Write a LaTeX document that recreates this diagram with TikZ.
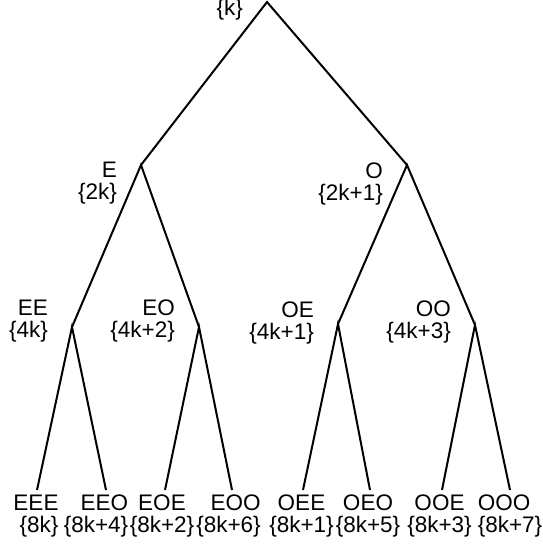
\documentclass[tikz,border=0pt]{standalone}
\usepackage{fontspec}
\setmainfont{Liberation Sans}
\usetikzlibrary{calc}

\begin{document}
\begin{tikzpicture}[x=1pt,y=-1pt,
                    edge/.style={line width=2pt,line join=miter},
                    tag/.style={inner sep=0pt,align=right,anchor=north east,font={\fontsize{22.5}{21.5}\selectfont}},
                    leaf/.style={tag,anchor=north}]
    \useasboundingbox (0,0) rectangle (543,547);

    % branch points, top to bottom
    \coordinate (root) at (267,2);
    \coordinate (E)    at (141,165);
    \coordinate (O)    at (407,165);
    \coordinate (EE)   at (72,327);
    \coordinate (EO)   at (199,327);
    \coordinate (OE)   at (338,324);
    \coordinate (OO)   at (475,325);
    \coordinate (EEE)  at (37,490);
    \coordinate (EEO)  at (106,490);
    \coordinate (EOE)  at (165,490);
    \coordinate (EOO)  at (232,490);
    \coordinate (OEE)  at (303,490);
    \coordinate (OEO)  at (370,490);
    \coordinate (OOE)  at (442,490);
    \coordinate (OOO)  at (510,490);

    \draw[edge] (E) -- (root) -- (O);
    \draw[edge] (EE) -- (E) -- (EO);
    \draw[edge] (OE) -- (O) -- (OO);
    \draw[edge] (EEE) -- (EE) -- (EEO);
    \draw[edge] (EOE) -- (EO) -- (EOO);
    \draw[edge] (OEE) -- (OE) -- (OEO);
    \draw[edge] (OOE) -- (OO) -- (OOO);

    % residues beside the inner points
    \node[tag,anchor=base east] (lroot) at ($ (root) + (-24,13) $) {\{k\}};
    \node[tag] (lE)  at ($ (E) + (-24,-3) $)   {E\\\{2k\}};
    \node[tag] (lO)  at ($ (O) + (-24,-2) $)   {O\\\{2k+1\}};
    \node[tag] (lEE) at ($ (EE) + (-24,-27) $) {EE\\\{4k\}};
    \node[tag] (lEO) at ($ (EO) + (-24,-27) $) {EO\\\{4k+2\}};
    \node[tag] (lOE) at ($ (OE) + (-24,-22) $) {OE\\\{4k+1\}};
    \node[tag] (lOO) at ($ (OO) + (-24,-24) $) {OO\\\{4k+3\}};

    % residues under the leaves
    \node[leaf,align=right]  (lEEE) at ($ (EEE) + (-1,5) $)   {EEE\\\{8k\}};
    \node[leaf,align=right]  (lEEO) at ($ (EEO) + (-10,5) $)  {EEO\\\{8k+4\}};
    \node[leaf,align=center] (lEOE) at ($ (EOE) + (-3,5) $)   {EOE\\\{8k+2\}};
    \node[leaf,align=right]  (lEOO) at ($ (EOO) + (-3.5,5) $) {EOO\\\{8k+6\}};
    \node[leaf,align=center] (lOEE) at ($ (OEE) + (-1.5,5) $) {OEE\\\{8k+1\}};
    \node[leaf,align=center] (lOEO) at ($ (OEO) + (-2,5) $)   {OEO\\\{8k+5\}};
    \node[leaf,align=center] (lOOE) at ($ (OOE) + (-2.5,5) $) {OOE\\\{8k+3\}};
    \node[leaf,align=left]   (lOOO) at ($ (OOO) + (0,5) $)    {OOO\\\{8k+7\}};
\end{tikzpicture}
\end{document}
